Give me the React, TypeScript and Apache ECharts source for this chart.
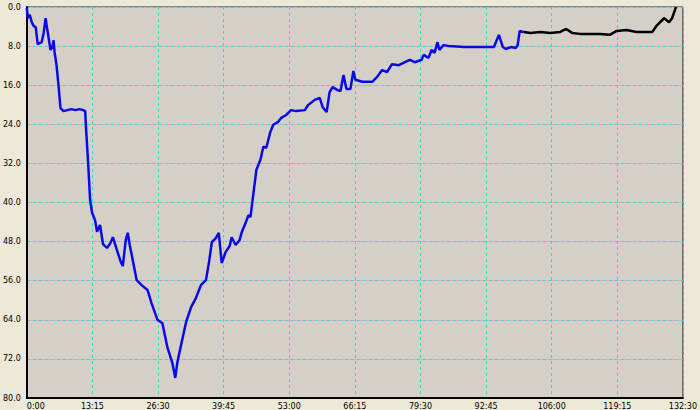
import React, { useEffect, useRef } from "react";
import * as echarts from "echarts";

// time in seconds, depth in metres
const blueTimes = [0, 12, 36, 60, 84, 108, 132, 156, 180, 204, 228, 240, 264, 288, 312, 324, 336, 360, 384, 408, 444, 492, 540, 588, 636, 684, 707, 719, 743, 767, 791, 827, 851, 887, 923, 971, 1007, 1043, 1091, 1139, 1163, 1199, 1223, 1247, 1271, 1331, 1391, 1463, 1511, 1583, 1643, 1703, 1763, 1799, 1823, 1883, 1931, 1991, 2050, 2110, 2170, 2206, 2242, 2290, 2326, 2362, 2410, 2458, 2482, 2530, 2578, 2602, 2650, 2686, 2710, 2746, 2782, 2830, 2866, 2902, 2950, 2986, 3046, 3082, 3142, 3202, 3262, 3369, 3406, 3489, 3549, 3585, 3633, 3669, 3705, 3765, 3801, 3837, 3873, 3921, 3957, 3981, 4065, 4185, 4245, 4305, 4365, 4425, 4509, 4581, 4641, 4700, 4784, 4808, 4868, 4904, 4940, 4976, 5000, 5048, 5108, 5300, 5504, 5660, 5720, 5768, 5804, 5864, 5924, 5948, 5972, 6020];
const blueDepths = [0.2, 2.3, 1.6, 3.1, 3.9, 4.1, 7.6, 7.4, 7.2, 5.3, 2.3, 3.7, 6.3, 8.8, 8.0, 6.8, 9.2, 11.9, 16.0, 20.7, 21.3, 21.1, 20.9, 21.1, 20.9, 21.1, 21.3, 25.2, 31.9, 39.5, 42.1, 43.6, 46.0, 44.6, 48.5, 49.3, 48.5, 47.1, 49.7, 52.2, 53.0, 47.7, 46.2, 48.7, 50.7, 55.9, 56.9, 57.9, 60.6, 64.0, 64.7, 69.6, 72.8, 75.9, 72.8, 68.1, 64.4, 61.4, 59.5, 56.9, 55.9, 52.4, 48.1, 47.3, 46.2, 52.4, 50.1, 48.9, 47.1, 48.7, 47.7, 46.2, 44.2, 42.6, 43.0, 38.1, 33.3, 31.3, 28.6, 28.8, 25.6, 24.1, 23.5, 22.7, 22.1, 21.1, 21.3, 21.1, 20.1, 19.0, 18.6, 20.5, 21.5, 17.4, 16.4, 17.0, 17.2, 13.9, 16.8, 16.8, 13.1, 14.9, 15.3, 15.3, 14.3, 12.9, 13.3, 11.7, 11.9, 11.3, 10.8, 11.3, 10.8, 9.8, 10.4, 8.8, 9.4, 7.2, 8.8, 7.8, 8.0, 8.2, 8.2, 8.2, 5.7, 8.2, 8.6, 8.2, 8.4, 7.8, 4.9, 5.1];

const blackTimes = [6020, 6103, 6223, 6343, 6463, 6535, 6607, 6703, 6823, 6943, 7063, 7147, 7267, 7387, 7506, 7578, 7638, 7722, 7782, 7818, 7854, 7866];
const blackDepths = [5.1, 5.3, 5.1, 5.3, 5.1, 4.5, 5.3, 5.5, 5.5, 5.5, 5.7, 4.9, 4.7, 5.1, 5.1, 5.1, 3.7, 2.3, 3.1, 2.3, 0.6, 0.0];

const X_MAX = 7950;
const X_STEP = 795;
const Y_MAX = 80;
const Y_STEP = 8;

const fmtTime = (v: number) => {
  const m = Math.floor(v / 60);
  const s = Math.round(v - m * 60);
  return `${m}:${s < 10 ? "0" + s : s}`;
};

export default function App() {
  const ref = useRef<HTMLDivElement>(null);
  useEffect(() => {
    if (!ref.current) return;
    const chart = echarts.init(ref.current, undefined, { renderer: "svg" });
    const labelStyle = {
      fontSize: 8,
      fontFamily: "DejaVu Sans",
      color: "#000",
    };
    chart.setOption({
      animation: false,
      backgroundColor: "#ece9d8",
      grid: {
        left: 21,
        top: 7,
        right: 16,
        bottom: 12,
        show: true,
        backgroundColor: "#d4d0c8",
        borderColor: "#222",
        borderWidth: 1,
      },
      xAxis: {
        type: "value",
        min: 0,
        max: X_MAX,
        interval: X_STEP,
        axisLine: { show: true, onZero: false, lineStyle: { color: "#000", width: 2 } },
        axisTick: { show: false },
        axisLabel: { ...labelStyle, margin: 4, formatter: fmtTime, alignMinLabel: "left" },
        splitLine: { show: true, lineStyle: { color: "#33e0d0", type: [3, 3], width: 1 } },
      },
      yAxis: [
        {
          type: "value",
          inverse: true,
          min: 0,
          max: Y_MAX,
          interval: Y_STEP,
          axisLine: { show: true, lineStyle: { color: "#000", width: 2 } },
          axisTick: { show: false },
          axisLabel: { ...labelStyle, margin: 6, formatter: (v: number) => v.toFixed(1) },
          splitLine: { show: true, lineStyle: { color: "#33e0d0", type: [3, 3], width: 1 } },
        },
        {
          type: "value",
          inverse: true,
          min: 0,
          max: Y_MAX,
          interval: Y_STEP,
          position: "left",
          axisLine: { show: false },
          axisTick: { show: false },
          axisLabel: { show: false },
          splitLine: { show: true, lineStyle: { color: "#e8a8c0", type: [3, 3], dashOffset: 3, width: 1 } },
        },
      ],
      series: [
        {
          type: "line",
          data: blueTimes.map((t, i) => [t, blueDepths[i]]),
          showSymbol: false,
          lineStyle: { color: "#0a0ae6", width: 2.5 },
          z: 3,
        },
        {
          type: "line",
          data: blackTimes.map((t, i) => [t, blackDepths[i]]),
          showSymbol: false,
          lineStyle: { color: "#000", width: 2.5 },
          z: 3,
        },
      ],
    });
    return () => chart.dispose();
  }, []);
  return (
    <div
      ref={ref}
      style={{ position: "fixed", left: 0, top: 0, width: 700, height: 410 }}
    />
  );
}
